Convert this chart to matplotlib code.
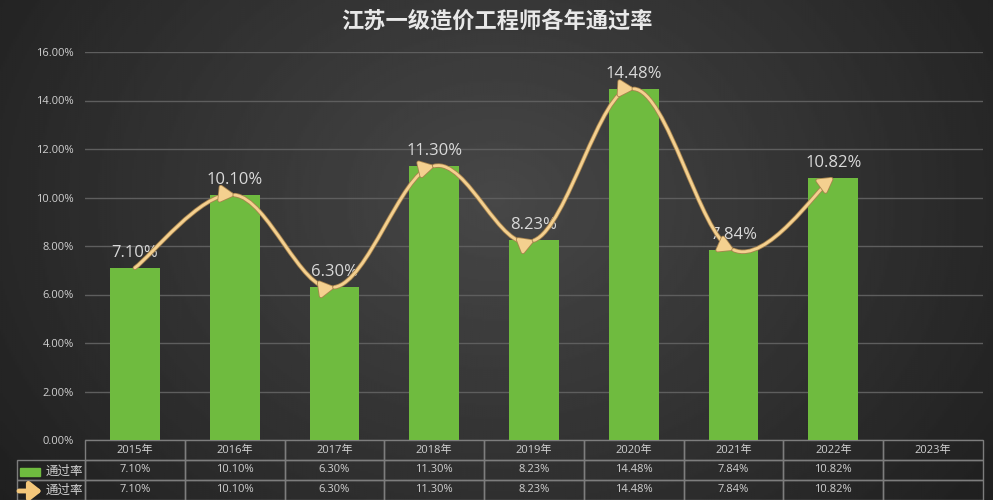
import numpy as np
import matplotlib.pyplot as plt
from matplotlib.path import Path
from matplotlib.patches import FancyArrowPatch, Rectangle
import matplotlib.patheffects as pe

plt.rcParams['font.family'] = ['Open Sans', 'Noto Sans CJK SC', 'DejaVu Sans']

title = '江苏一级造价工程师各年通过率'
series_name = '通过率'
years = ['2015年', '2016年', '2017年', '2018年', '2019年', '2020年', '2021年', '2022年', '2023年']
rates = [7.10, 10.10, 6.30, 11.30, 8.23, 14.48, 7.84, 10.82]
rate_labels = ['7.10%', '10.10%', '6.30%', '11.30%', '8.23%', '14.48%', '7.84%', '10.82%']
yticks = [0, 2, 4, 6, 8, 10, 12, 14, 16]

W, H = 993, 500
fig = plt.figure(figsize=(W / 100, H / 100), dpi=100)

# dark gradient background
bg = fig.add_axes([0, 0, 1, 1], zorder=-10)
yy, xx = np.mgrid[0:1:250j, 0:1:500j]
r = np.sqrt(((xx - 0.5) / 0.6) ** 2 + ((yy - 0.4) / 0.95) ** 2)
shade = np.clip(0.28 - 0.15 * r, 0, 1)
bg.imshow(shade, cmap='gray', vmin=0, vmax=1, extent=[0, 1, 0, 1], aspect='auto')
bg.axis('off')

ax = fig.add_axes([85 / W, 60 / H, 898 / W, 388 / H])
ax.set_facecolor('none')
x = np.arange(len(rates))
ax.bar(x, rates, width=0.5, color='#6fbb3f', zorder=2)
ax.set_xlim(-0.5, len(years) - 0.5)
ax.set_ylim(0, 16)
ax.set_yticks(yticks)
ax.set_yticklabels([f'{v:.2f}%' for v in yticks])
ax.set_xticks([])
ax.yaxis.grid(True, color='#5e5e5e', lw=1)
ax.set_axisbelow(True)
ax.tick_params(axis='y', length=0, pad=8, colors='#d0d0d0', labelsize=8)
for s in ax.spines.values():
    s.set_visible(False)

# smooth line with arrow heads at each point
pts = np.column_stack([x, rates]).astype(float)
n = len(pts)
for i in range(n - 1):
    p0 = pts[max(i - 1, 0)]
    p1 = pts[i]
    p2 = pts[i + 1]
    p3 = pts[min(i + 2, n - 1)]
    c1 = p1 + (p2 - p0) / 6
    c2 = p2 - (p3 - p1) / 6
    seg = Path([p1, c1, c2, p2], [Path.MOVETO, Path.CURVE4, Path.CURVE4, Path.CURVE4])
    arr = FancyArrowPatch(path=seg, arrowstyle='-|>,head_length=0.7,head_width=0.4',
                          mutation_scale=12, color='#f4d08f', lw=2, shrinkA=0, shrinkB=0,
                          zorder=4, path_effects=[pe.withStroke(linewidth=3.2, foreground='#a8844e')])
    ax.add_patch(arr)

for xi, yi, lbl in zip(x, rates, rate_labels):
    ax.annotate(lbl, (xi, yi), xytext=(0, 5), textcoords='offset points', ha='center',
                va='bottom', fontsize=12, color='#d9d9d9', zorder=3)

# data table
rows = [[''] + years,
        [''] + rate_labels + [''],
        [''] + rate_labels + ['']]
total_w = 983 - 17
col_w = [68 / total_w] + [(898 / len(years)) / total_w] * len(years)
tbl = ax.table(cellText=rows, cellLoc='center', colWidths=col_w,
               bbox=[(17 - 85) / 898, -60 / 388, total_w / 898, 60 / 388])
tbl.auto_set_font_size(False)
for (ri, ci), cell in tbl.get_celld().items():
    cell.set_facecolor('none')
    cell.set_edgecolor('#7d7d7d')
    cell.set_linewidth(1)
    cell.get_text().set_color('#d0d0d0')
    cell.get_text().set_fontsize(8)
tbl[0, 0].set_edgecolor('none')

# legend keys in the table
fig.add_artist(Rectangle((20 / W, 1 - 476 / H), 20 / W, 8 / H, color='#6fbb3f',
                         transform=fig.transFigure))
fig.add_artist(FancyArrowPatch((19 / W, 1 - 491 / H), (42 / W, 1 - 491 / H),
                               arrowstyle='-|>,head_length=0.7,head_width=0.55',
                               mutation_scale=10, color='#f4c77a', lw=3.5,
                               shrinkA=0, shrinkB=0, transform=fig.transFigure))
fig.text(46 / W, 1 - 471 / H, series_name, ha='left', va='center', fontsize=9, color='#d0d0d0')
fig.text(46 / W, 1 - 490 / H, series_name, ha='left', va='center', fontsize=9, color='#d0d0d0')

fig.text(0.5, 1 - 22 / H, title, ha='center', va='center', fontsize=16,
         fontweight='bold', color='#e8e8e8')

fig.savefig('out.png', dpi=100)
